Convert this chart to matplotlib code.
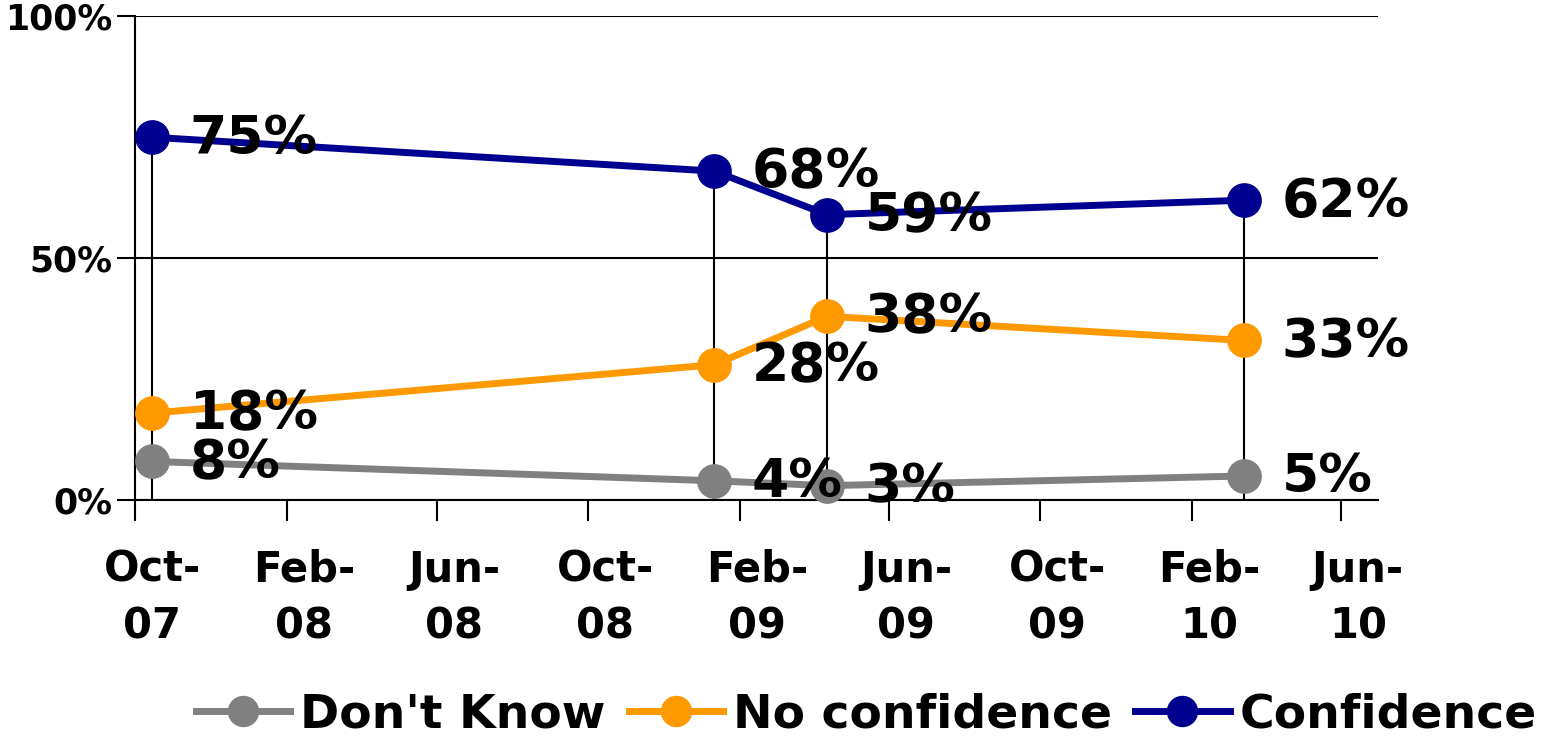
import datetime as dt

import matplotlib
matplotlib.use('Agg')
from matplotlib import pyplot as plt
import matplotlib.dates as mdates
from matplotlib.transforms import ScaledTranslation
from matplotlib.ticker import FixedLocator, FuncFormatter


# survey dates and results (percent)
dates = [dt.date(2007, 10, 15), dt.date(2009, 1, 11),
         dt.date(2009, 4, 12), dt.date(2010, 3, 15)]
confidence = [75, 68, 59, 62]
no_confidence = [18, 28, 38, 33]
dont_know = [8, 4, 3, 5]

series = [('Don\'t Know', dont_know, '#808080'),
          ('No confidence', no_confidence, '#FF9900'),
          ('Confidence', confidence, '#000090')]

fig = plt.figure(figsize=(15.45, 7.41), dpi=100)
ax = fig.add_axes([0.0874, 0.325, 0.8045, 0.653])

# drop lines from the top series down to the axis
ax.vlines(dates, 0, confidence, color='k', lw=1.5, zorder=2)

for name, vals, col in series:
    ax.plot(dates, vals, color=col, lw=5, marker='o', ms=24,
            label=name, zorder=3, clip_on=False)
    for d, v in zip(dates, vals):
        ax.annotate(f'{v}%', (mdates.date2num(d), v), xytext=(27, -1),
                    textcoords='offset points', va='center', ha='left',
                    fontsize=38.5, fontweight='bold', zorder=4)

ax.set_ylim(0, 100)
ax.set_xlim(dt.date(2007, 10, 1), dt.date(2010, 7, 1))
ax.yaxis.set_major_locator(FixedLocator([0, 50, 100]))
ax.yaxis.set_major_formatter(FuncFormatter(lambda v, p: f'{v:.0f}%'))
ax.xaxis.set_major_locator(mdates.MonthLocator(bymonth=[2, 6, 10]))
ax.xaxis.set_major_formatter(mdates.DateFormatter('%b-\n%y'))

ax.grid(axis='y', color='k', lw=1.5)
for s in ['top', 'right']:
    ax.spines[s].set_visible(False)
for s in ['left', 'bottom']:
    ax.spines[s].set_linewidth(1.5)

ax.tick_params(axis='y', length=13, width=1.5, labelsize=25, pad=3)
ax.tick_params(axis='x', length=15, width=1.5, labelsize=30, pad=20)
for lbl in ax.get_yticklabels():
    lbl.set_fontweight('bold')
# date labels sit a little right of their ticks in the original
shift = ScaledTranslation(17 / 100, 0, fig.dpi_scale_trans)
for lbl in ax.get_xticklabels():
    lbl.set_fontweight('bold')
    lbl.set_linespacing(1.45)
    lbl.set_transform(lbl.get_transform() + shift)

fig.legend(loc='center', bbox_to_anchor=(0.5606, 1 - 715 / 741), ncol=3,
           frameon=False, prop={'size': 34, 'weight': 'bold'},
           handlelength=2.0, handletextpad=0.2, columnspacing=0.5,
           markerscale=0.9)

plt.savefig('out.png', dpi=100)
